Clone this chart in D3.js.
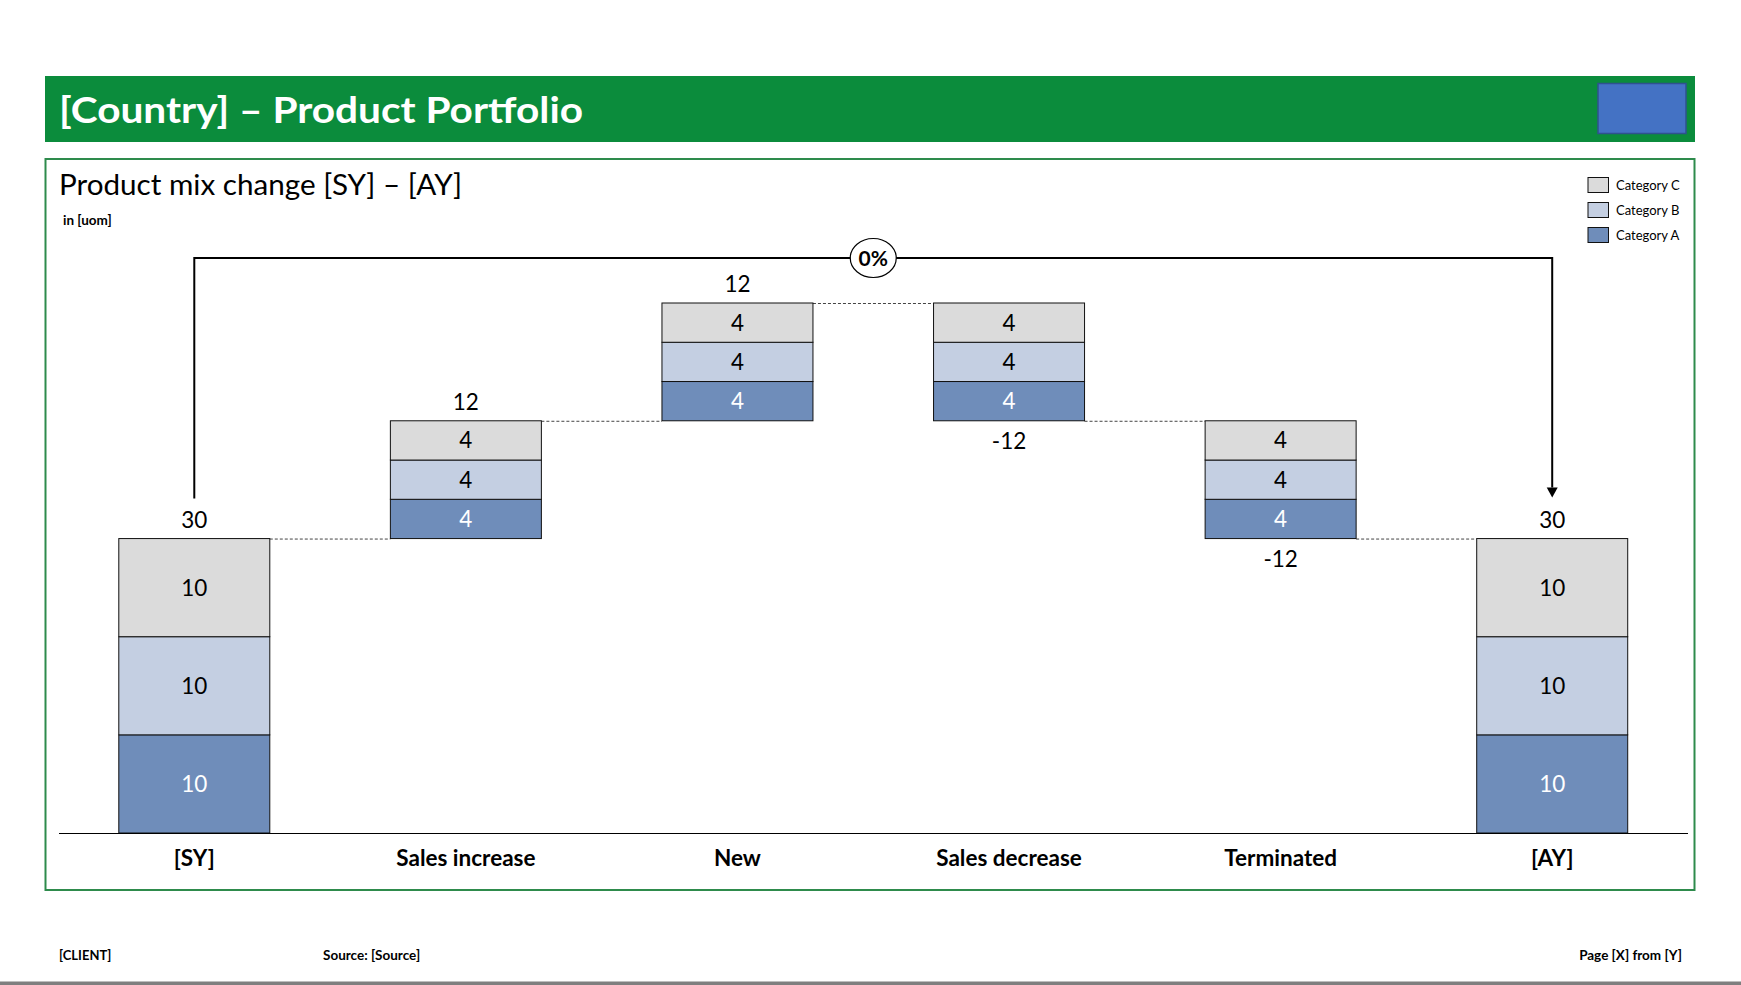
<!DOCTYPE html>
<html><head><meta charset="utf-8">
<script src="https://cdn.jsdelivr.net/npm/d3@7"></script>
<style>body{margin:0;background:#fff;} svg{display:block;font-family:Lato,"Open Sans",sans-serif;}</style>
</head><body><svg id="chart" width="1741" height="985"></svg>
<script>
// ---- data ----
const categories = ["[SY]", "Sales increase", "New", "Sales decrease", "Terminated", "[AY]"];
const barTypes = ["total", "delta", "delta", "delta", "delta", "total"];
const seriesNames = ["Category A", "Category B", "Category C"];
const categoryA = [10, 4, 4, -4, -4, 10];
const categoryB = [10, 4, 4, -4, -4, 10];
const categoryC = [10, 4, 4, -4, -4, 10];
const seriesColors = ["#6f8dba", "#c4cfe2", "#dbdbdb"];
const seriesTextColors = ["#ffffff", "#000000", "#000000"];
const titleText = "[Country] – Product Portfolio";
const chartTitle = "Product mix change [SY] – [AY]";
const unitText = "in [uom]";
const footerLeft = "[CLIENT]";
const footerSource = "Source: [Source]";
const footerRight = "Page [X] from [Y]";

// ---- layout ----
const svg = d3.select("#chart");
const W = 1741, H = 985;

// header
svg.append("rect").attr("x", 45).attr("y", 76).attr("width", 1650).attr("height", 66).attr("fill", "#0b8c3c");
svg.append("text").attr("x", 59).attr("y", 123).attr("fill", "#fff").attr("font-weight", 700)
  .attr("font-size", 37).attr("textLength", 524).attr("lengthAdjust", "spacingAndGlyphs").text(titleText);
svg.append("rect").attr("x", 1598).attr("y", 83.5).attr("width", 88).attr("height", 50)
  .attr("fill", "#4472c4").attr("stroke", "#2f528f").attr("stroke-width", 1.5);

// content frame
svg.append("rect").attr("x", 45.5).attr("y", 159).attr("width", 1649).attr("height", 731)
  .attr("fill", "none").attr("stroke", "#2e8b4c").attr("stroke-width", 2);
svg.append("text").attr("x", 59).attr("y", 195).attr("font-size", 28).attr("fill", "#000")
  .attr("textLength", 403).attr("lengthAdjust", "spacingAndGlyphs").text(chartTitle);
svg.append("text").attr("x", 63).attr("y", 225).attr("font-size", 13.5).attr("font-weight", 700).text(unitText);

// footer
svg.append("text").attr("x", 59).attr("y", 960).attr("font-size", 13).attr("font-weight", 700).text(footerLeft);
svg.append("text").attr("x", 323).attr("y", 960).attr("font-size", 13.5).attr("font-weight", 700).text(footerSource);
svg.append("text").attr("x", 1682).attr("y", 960).attr("text-anchor", "end").attr("font-size", 13.5).attr("font-weight", 700).text(footerRight);
svg.append("rect").attr("x", 0).attr("y", 981.5).attr("width", W).attr("height", 3.5).attr("fill", "#7f7f7f");

// ---- compute waterfall ----
const series = [categoryA, categoryB, categoryC];
let running = 0;
const bars = categories.map((c, i) => {
  const vals = series.map(s => s[i]);
  const sum = d3.sum(vals);
  let base;
  if (barTypes[i] === "total") { base = 0; running = sum; }
  else { const start = running; running += sum; base = Math.min(start, running); }
  let acc = base;
  const segs = vals.map((v, k) => { const y0 = acc; acc += Math.abs(v); return { k, v, y0, y1: acc, cat: c }; });
  return { c, i, sum, base, top: acc, end: running, segs, type: barTypes[i] };
});

const x = d3.scaleBand().domain(categories).range([58.5, 1688]).paddingInner(0.444).paddingOuter(0.222);
const y = d3.scaleLinear().domain([0, d3.max(bars, b => b.top)]).range([833, 303]);
const bw = x.bandwidth();

// connectors
const g = svg.append("g");
g.selectAll("line.conn").data(bars.slice(0, -1)).join("line")
  .attr("x1", d => x(d.c) + bw).attr("x2", (d, i) => x(categories[i + 1]))
  .attr("y1", d => y(d.end) + 0.5).attr("y2", d => y(d.end) + 0.5)
  .attr("stroke", "#444").attr("stroke-width", 1).attr("stroke-dasharray", "3,2");

// bars
const bg = g.selectAll("g.bar").data(bars).join("g");
bg.selectAll("rect").data(d => d.segs).join("rect")
  .attr("x", d => x(d.cat)).attr("width", bw)
  .attr("y", d => y(d.y1)).attr("height", d => y(d.y0) - y(d.y1))
  .attr("fill", d => seriesColors[d.k]).attr("stroke", "#111").attr("stroke-width", 1);
bg.selectAll("text").data(d => d.segs).join("text")
  .attr("x", d => x(d.cat) + bw / 2).attr("y", d => (y(d.y0) + y(d.y1)) / 2 + 8)
  .attr("text-anchor", "middle").attr("font-size", 22.5).attr("fill", d => seriesTextColors[d.k])
  .text(d => Math.abs(d.v));

// total labels
g.selectAll("text.tot").data(bars).join("text")
  .attr("x", d => x(d.c) + bw / 2)
  .attr("y", d => d.sum >= 0 ? y(d.top) - 11 : y(d.base) + 28)
  .attr("text-anchor", "middle").attr("font-size", 22.5).attr("fill", "#000")
  .text(d => d.sum);

// axis baseline + category labels
const xAxis = d3.axisBottom(x).tickSize(0).tickPadding(17);
const ax = svg.append("g").attr("transform", "translate(0,833)").call(xAxis);
ax.select(".domain").attr("d", "M59,0.5H1688").attr("stroke", "#000").attr("stroke-width", 1.2);
ax.selectAll(".tick text").attr("font-size", 22.5).attr("font-weight", 700).attr("fill", "#000")
  .attr("font-family", "Lato, 'Open Sans', sans-serif");

// bracket with percentage
const first = bars[0], last = bars[bars.length - 1];
const lx = x(first.c) + bw / 2, rx = x(last.c) + bw / 2;
const topY = y(d3.max(bars, b => b.top)) - 45;
const lBottom = y(first.top) - 40, rBottom = y(last.top) - 41;
svg.append("path").attr("d", `M${lx},${lBottom}V${topY}H${rx}V${rBottom - 10}`)
  .attr("fill", "none").attr("stroke", "#000").attr("stroke-width", 2);
svg.append("path").attr("d", `M${rx - 5.5},${rBottom - 10}L${rx + 5.5},${rBottom - 10}L${rx},${rBottom}Z`).attr("fill", "#000");
const midX = (lx + rx) / 2;
svg.append("ellipse").attr("cx", midX).attr("cy", topY).attr("rx", 23).attr("ry", 19.5)
  .attr("fill", "#fff").attr("stroke", "#000").attr("stroke-width", 1.2);
const pct = (last.sum - first.sum) / first.sum;
svg.append("text").attr("x", midX).attr("y", topY + 7.5).attr("text-anchor", "middle")
  .attr("font-size", 21).attr("font-weight", 700).text(d3.format(".0%")(pct));

// legend
const legendItems = seriesNames.map((n, k) => ({ n, k })).reverse();
const lg = svg.append("g").attr("transform", "translate(1588,177.5)");
const li = lg.selectAll("g").data(legendItems).join("g").attr("transform", (d, i) => `translate(0,${i * 25})`);
li.append("rect").attr("width", 20.5).attr("height", 15).attr("fill", d => seriesColors[d.k]).attr("stroke", "#111").attr("stroke-width", 1);
li.append("text").attr("x", 28).attr("y", 12.5).attr("font-size", 13).text(d => d.n);
</script></body></html>
